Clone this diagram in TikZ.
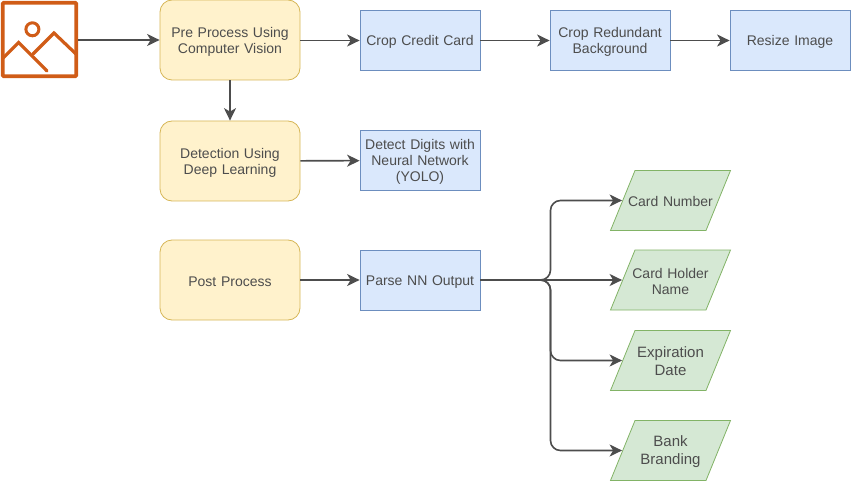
\documentclass[tikz,border=0pt]{standalone}
\usepackage{fontspec}
\setmainfont{Liberation Sans}
\usetikzlibrary{arrows.meta}
\definecolor{ink}{HTML}{4D4D4D}
\definecolor{txt}{HTML}{4D4D4D}
\definecolor{yelF}{HTML}{FFF2CC}\definecolor{yelD}{HTML}{D6B656}
\definecolor{bluF}{HTML}{DAE8FC}\definecolor{bluD}{HTML}{6C8EBF}
\definecolor{greF}{HTML}{D5E8D4}\definecolor{greD}{HTML}{82B366}
\definecolor{icon}{HTML}{D05C17}
\tikzset{
 x=1pt,y=-1pt,
 base/.style={align=center,text=txt,font=\fontsize{14}{16}\selectfont,inner sep=0pt,line width=.8pt,
   execute at begin node={\rule{0pt}{13.5pt}},execute at end node={\rule[-1.5pt]{0pt}{1.5pt}}},
 yel/.style={base,draw=yelD,fill=yelF,rounded corners=12pt,text width=130pt,minimum width=140pt,minimum height=80pt},
 blu/.style={base,draw=bluD,fill=bluF,text width=118pt,minimum width=120pt,minimum height=60pt},
 grelabel/.style={base,text width=96pt,minimum width=96pt,minimum height=60pt},
 big/.style={font=\fontsize{15}{18.5}\selectfont},
 gre/.style={draw=greD,fill=greF,line width=.8pt,line join=miter},
 arr/.style={draw=ink,line width=1.6pt,-{Stealth[length=12.5pt,width=12pt,inset=3.5pt]}},
 brn/.style={arr,rounded corners=10pt},
 ico/.style={draw=icon,line width=3.2pt,line cap=round}
}
\newcommand{\para}[5][]{%
 \draw[gre] (635,#3-30) -- (730.5,#3-30) -- (706,#3+30) -- (610.5,#3+30) -- cycle;
 \node[grelabel,#1] (#2) at (670.5,#3) {#4};}
\begin{document}
\begin{tikzpicture}
\useasboundingbox (0,0) rectangle (851,481);
% image icon
\node[draw=icon,line width=3.8pt,rounded corners=1pt,minimum width=73.4pt,minimum height=73.4pt,inner sep=0pt] (img) at (39.5,39.5) {};
\draw[ico,line join=miter] (3,58) -- (18.7,42.5) -- (47,71);
\draw[ico,line join=miter] (33,54) -- (54,33) -- (76,54);
\draw[icon,line width=3pt] (32.4,29.3) circle (6.5pt);
% nodes
\node[yel] (pre) at (230,40) {Pre Process Using\\Computer Vision};
\node[yel] (det) at (230,161) {Detection Using\\Deep Learning};
\node[yel] (post) at (230,280) {Post Process};
\node[blu] (crop) at (420,40.5) {Crop Credit Card};
\node[blu] (red) at (610,40.5) {Crop Redundant\\Background};
\node[blu] (res) at (790,40.5) {Resize Image};
\node[blu] (digits) at (420,160.5) {Detect Digits with\\Neural Network\\(YOLO)};
\node[blu] (parse) at (420,280) {Parse NN Output};
\para{num}{200.5}{Card Number}{}
\para{holder}{280}{Card Holder\\Name}{}
\para[big]{exp}{360.5}{Expiration\\Date}{}
\para[big]{bank}{450.5}{Bank\\Branding}{}
% connectors
\draw[arr] (img.east |- pre.west) -- (pre.west);
\draw[arr] (pre.east |- crop.west) -- (crop.west);
\draw[arr] (crop) -- (red);
\draw[arr] (red) -- (res);
\draw[arr] (pre) -- (det);
\draw[arr] (det) -- (digits);
\draw[arr] (post) -- (parse);
\draw[brn] (parse.east) -- (550.5,280) -- (550.5,200.5) -- (num.west);
\draw[arr] (parse.east) -- (holder.west);
\draw[brn] (parse.east) -- (550.5,280) -- (550.5,360.5) -- (exp.west);
\draw[brn] (parse.east) -- (550.5,280) -- (550.5,450.5) -- (bank.west);
\end{tikzpicture}
\end{document}
